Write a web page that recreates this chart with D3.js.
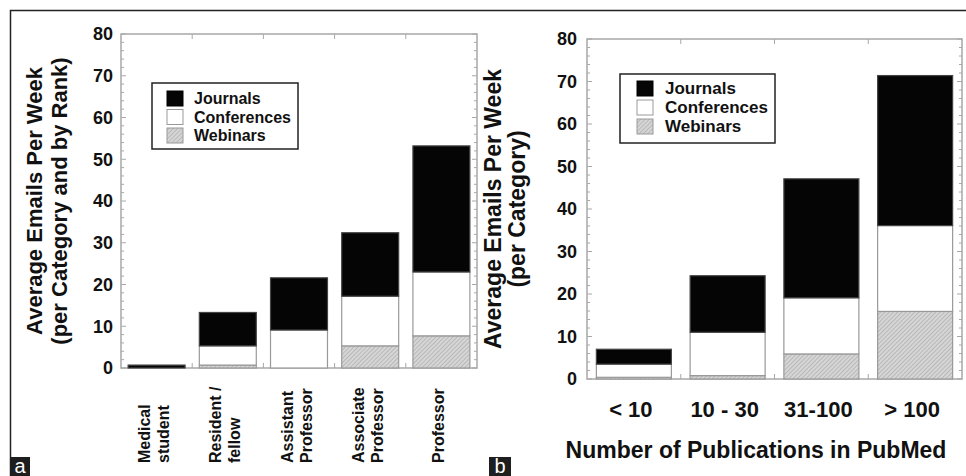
<!DOCTYPE html>
<html>
<head>
<meta charset="utf-8">
<script src="https://cdn.jsdelivr.net/npm/d3@7"></script>
<style>
  body { margin: 0; background: #fff; }
  svg { display: block; font-family: "Liberation Sans", Arial, sans-serif; font-weight: bold; }
</style>
</head>
<body>
<svg id="chart" width="966" height="476"></svg>
<script>
// panel a: by academic rank
const rankLabels = [["Medical", "student"], ["Resident /", "fellow"], ["Assistant", "Professor"], ["Associate", "Professor"], ["Professor"]];
const rankWebinars = [0, 0.7, 0, 5.3, 7.7];
const rankConferences = [0, 4.6, 9.1, 11.9, 15.3];
const rankJournals = [0.7, 8.0, 12.5, 15.2, 30.2];

// panel b: by number of publications
const pubLabels = ["< 10", "10 - 30", "31-100", "> 100"];
const pubWebinars = [0.4, 0.8, 5.9, 15.9];
const pubConferences = [3.1, 10.2, 13.2, 20.2];
const pubJournals = [3.5, 13.3, 28.0, 35.3];

const seriesNames = ["Journals", "Conferences", "Webinars"];
const yTicks = [0, 10, 20, 30, 40, 50, 60, 70, 80];
const yMinor = d3.range(0, 81, 2);

const svg = d3.select("#chart");
const ink = "#111";

// hatch for webinars
const pat = svg.append("defs").append("pattern")
  .attr("id", "hatch").attr("width", 3).attr("height", 3)
  .attr("patternUnits", "userSpaceOnUse").attr("patternTransform", "rotate(45)");
pat.append("rect").attr("width", 3).attr("height", 3).attr("fill", "#d6d6d6");
pat.append("line").attr("x1", 0).attr("y1", 0).attr("x2", 0).attr("y2", 3)
  .attr("stroke", "#9a9a9a").attr("stroke-width", 1);

const fills = { Journals: "#050505", Conferences: "#fff", Webinars: "url(#hatch)" };

// outer frame (top and left only)
svg.append("path").attr("d", "M10.5,476V10.5H966").attr("fill", "none")
  .attr("stroke", "#222").attr("stroke-width", 1.5);

function panelTag(x, w, t) {
  svg.append("rect").attr("x", x).attr("y", 457).attr("width", w).attr("height", 19).attr("fill", "#1e1e1e");
  svg.append("text").attr("x", x + w / 2).attr("y", 473).attr("text-anchor", "middle")
    .attr("font-size", 20).attr("font-weight", "normal").attr("fill", "#fff").text(t);
}
panelTag(10, 20, "a");
panelTag(489, 22, "b");

function drawPanel(cfg) {
  const cats = cfg.cats.map((c, i) => i);
  const rows = cats.map((i) => ({
    i, Webinars: cfg.web[i], Conferences: cfg.conf[i], Journals: cfg.jour[i],
  }));
  const x = d3.scaleBand().domain(cats).range([cfg.x0, cfg.x1]).paddingInner(0.2).paddingOuter(0.1);
  const y = d3.scaleLinear().domain([0, 80]).range([cfg.y0, cfg.y1]);
  const g = svg.append("g");

  // plot frame
  g.append("rect").attr("x", cfg.x0).attr("y", cfg.y1)
    .attr("width", cfg.x1 - cfg.x0).attr("height", cfg.y0 - cfg.y1)
    .attr("fill", "none").attr("stroke", "#a8a8a8").attr("stroke-width", 1.5);

  // inner ticks left/right
  yMinor.forEach((v) => {
    const len = v % 10 === 0 ? 5 : 3;
    const yy = y(v);
    g.append("line").attr("x1", cfg.x0).attr("x2", cfg.x0 + len).attr("y1", yy).attr("y2", yy)
      .attr("stroke", "#a8a8a8").attr("stroke-width", 1);
    g.append("line").attr("x1", cfg.x1).attr("x2", cfg.x1 - len).attr("y1", yy).attr("y2", yy)
      .attr("stroke", "#a8a8a8").attr("stroke-width", 1);
  });
  // ticks at band boundaries top/bottom
  cats.slice(1).forEach((i) => {
    const xx = x(i) - x.step() * x.paddingInner() / 2;
    g.append("line").attr("x1", xx).attr("x2", xx).attr("y1", cfg.y1).attr("y2", cfg.y1 + 5)
      .attr("stroke", "#a8a8a8").attr("stroke-width", 1);
    g.append("line").attr("x1", xx).attr("x2", xx).attr("y1", cfg.y0).attr("y2", cfg.y0 - 5)
      .attr("stroke", "#a8a8a8").attr("stroke-width", 1);
  });

  // y tick labels
  const ax = g.append("g").attr("transform", `translate(${cfg.x0},0)`)
    .call(d3.axisLeft(y).tickValues(yTicks).tickSize(0).tickPadding(cfg.tickPad));
  ax.select(".domain").remove();
  ax.selectAll("text").attr("font-size", 18).attr("font-family", "Liberation Sans, Arial, sans-serif")
    .attr("font-weight", "bold").attr("fill", ink);

  // stacked bars
  const stack = d3.stack().keys(["Webinars", "Conferences", "Journals"])(rows);
  stack.forEach((layer) => {
    g.append("g").selectAll("rect").data(layer).enter().append("rect")
      .attr("x", (d) => x(d.data.i))
      .attr("width", x.bandwidth())
      .attr("y", (d) => y(d[1]))
      .attr("height", (d) => Math.max(0, y(d[0]) - y(d[1])))
      .attr("fill", fills[layer.key])
      .attr("stroke", layer.key === "Journals" ? "#444" : "#999")
      .attr("stroke-width", 1.2);
  });

  // y title
  const ty = (cfg.y0 + cfg.y1) / 2;
  cfg.title.forEach((t, k) => {
    g.append("text")
      .attr("transform", `translate(${cfg.titleX[k]},${ty}) rotate(-90)`)
      .attr("text-anchor", "middle").attr("font-size", cfg.titleSize).attr("fill", ink).text(t);
  });

  // legend
  const L = cfg.legend;
  g.append("rect").attr("x", L.x).attr("y", L.y).attr("width", L.w).attr("height", L.h)
    .attr("fill", "#fff").attr("stroke", "#222").attr("stroke-width", 1.5);
  seriesNames.forEach((s, k) => {
    const yy = L.y + L.top + k * L.pitch;
    g.append("rect").attr("x", L.x + L.sx).attr("y", yy).attr("width", 16).attr("height", 15)
      .attr("fill", fills[s]).attr("stroke", s === "Journals" ? "#000" : "#999").attr("stroke-width", 1);
    g.append("text").attr("x", L.x + L.tx).attr("y", yy + 13).attr("font-size", L.size)
      .attr("fill", ink).text(s);
  });

  return x;
}

// panel a
const xa = drawPanel({
  cats: rankLabels, web: rankWebinars, conf: rankConferences, jour: rankJournals,
  x0: 121, x1: 477, y0: 368, y1: 34, tickPad: 8,
  title: ["Average Emails Per Week", "(per Category and by Rank)"], titleX: [42, 67], titleSize: 22,
  legend: { x: 152, y: 83, w: 146, h: 66, sx: 15, tx: 42, top: 8, pitch: 18.5, size: 16 },
});
rankLabels.forEach((lines, i) => {
  const cx = xa(i) + xa.bandwidth() / 2 - 1;
  const n = lines.length;
  lines.forEach((t, k) => {
    const bx = cx + 4 + (k - (n - 1) / 2) * 19;
    svg.append("text")
      .attr("transform", `translate(${bx},463) rotate(-90)`)
      .attr("font-size", 16).attr("fill", ink).text(t);
  });
});

// panel b
const xb = drawPanel({
  cats: pubLabels, web: pubWebinars, conf: pubConferences, jour: pubJournals,
  x0: 587, x1: 962, y0: 379, y1: 39, tickPad: 10,
  title: ["Average Emails Per Week", "(per Category)"], titleX: [501, 525], titleSize: 23,
  legend: { x: 620, y: 74, w: 155, h: 69, sx: 17, tx: 45, top: 7, pitch: 19, size: 17 },
});
pubLabels.forEach((t, i) => {
  svg.append("text").attr("x", xb(i) + xb.bandwidth() / 2 - 3).attr("y", 417)
    .attr("text-anchor", "middle").attr("font-size", 22).attr("fill", ink).text(t);
});
svg.append("text").attr("x", 756).attr("y", 458).attr("text-anchor", "middle")
  .attr("font-size", 23).attr("fill", ink).text("Number of Publications in PubMed");
</script>
</body>
</html>
